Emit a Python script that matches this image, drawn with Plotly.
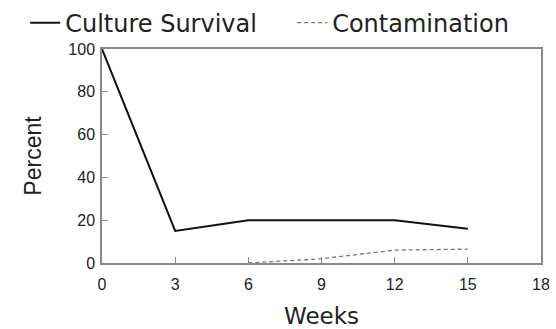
import plotly.graph_objects as go

weeks_survival = [0, 3, 6, 9, 12, 15]
culture_survival = [100, 15, 20, 20, 20, 16]
weeks_contam = [6, 9, 12, 15]
contamination = [0, 2, 6, 6.5]
x_ticks = [0, 3, 6, 9, 12, 15, 18]
y_ticks = [0, 20, 40, 60, 80, 100]

fig = go.Figure()
fig.add_trace(go.Scatter(x=weeks_survival, y=culture_survival, mode="lines",
                         name="Culture Survival", line=dict(color="#111111", width=2)))
fig.add_trace(go.Scatter(x=weeks_contam, y=contamination, mode="lines",
                         name="Contamination", line=dict(color="#777777", width=1.3, dash="4px,3px")))

axis_common = dict(showgrid=False, zeroline=False, showline=True, linecolor="#8a8a8a",
                   linewidth=1.5, mirror=True, ticks="inside", ticklen=6, tickcolor="#8a8a8a",
                   automargin=False,
                   tickfont=dict(family="Liberation Sans, Arial", size=16, color="#222222"))

fig.update_layout(
    width=556, height=329,
    margin=dict(l=102, r=15, t=49, b=66, autoexpand=False),
    paper_bgcolor="white", plot_bgcolor="white",
    font=dict(family="Liberation Sans, Arial", color="#222222"),
    showlegend=True,
    legend=dict(orientation="h", x=-0.175, xanchor="left", y=1.121, yanchor="middle",
                font=dict(family="DejaVu Sans", size=24, color="#222222"),
                entrywidth=222, entrywidthmode="pixels", bgcolor="rgba(0,0,0,0)"),
    xaxis=dict(range=[0, 18], tickvals=x_ticks, ticklabelstandoff=6,
               title=dict(text="Weeks", font=dict(family="DejaVu Sans", size=23), standoff=27), **axis_common),
    yaxis=dict(range=[0, 100], tickvals=y_ticks, ticklabelstandoff=2,
               title=dict(text="Percent", font=dict(size=23), standoff=20), **axis_common),
)

fig.write_html("out.html", config={"displayModeBar": False},
               post_script="document.body.style.margin='0';")
